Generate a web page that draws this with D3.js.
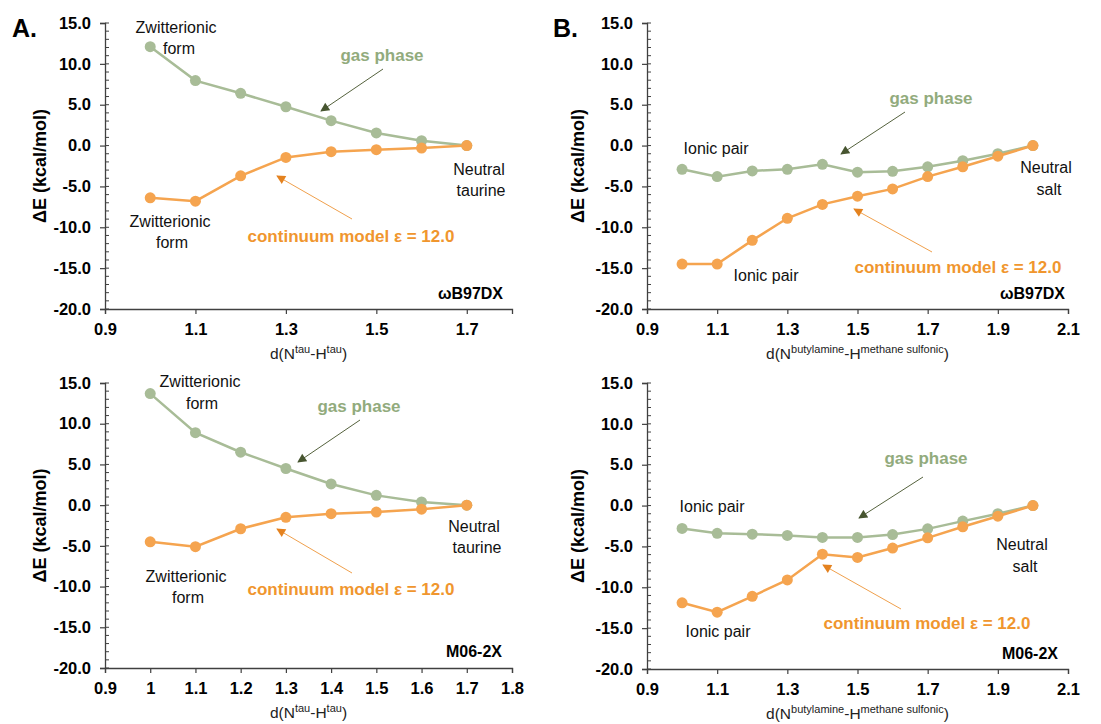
<!DOCTYPE html>
<html>
<head>
<meta charset="utf-8">
<script src="https://cdn.jsdelivr.net/npm/d3@7"></script>
<style>
  body { margin: 0; background: #fff; }
  svg { display: block; font-family: "Liberation Sans", Arial, sans-serif; }
  .tick-lbl { font-weight: bold; font-size: 16.5px; fill: #000; }
  .note { font-size: 16px; fill: #111; }
  .gas-lbl { font-weight: bold; font-size: 17px; fill: #92ab7d; }
  .cont-lbl { font-weight: bold; font-size: 17px; fill: #f0962e; }
  .method { font-weight: bold; font-size: 16px; fill: #000; }
</style>
</head>
<body>
<div id="chart"></div>
<script>
// distances (Å) and energies (kcal/mol)
var xTaurine = [1.0, 1.1, 1.2, 1.3, 1.4, 1.5, 1.6, 1.7];
var gasTauWB = [12.1, 7.95, 6.4, 4.75, 3.05, 1.55, 0.6, 0.0];
var contTauWB = [-6.4, -6.8, -3.7, -1.45, -0.75, -0.5, -0.3, 0.0];
var gasTauM06 = [13.7, 8.9, 6.5, 4.5, 2.6, 1.2, 0.4, 0.0];
var contTauM06 = [-4.5, -5.1, -2.9, -1.5, -1.05, -0.85, -0.5, 0.0];

var xSalt = [1.0, 1.1, 1.2, 1.3, 1.4, 1.5, 1.6, 1.7, 1.8, 1.9, 2.0];
var gasSaltWB = [-2.9, -3.8, -3.1, -2.9, -2.3, -3.25, -3.15, -2.6, -1.85, -1.0, 0.0];
var contSaltWB = [-14.5, -14.5, -11.6, -8.9, -7.2, -6.2, -5.3, -3.8, -2.6, -1.3, 0.0];
var gasSaltM06 = [-2.8, -3.4, -3.5, -3.65, -3.9, -3.9, -3.55, -2.85, -1.9, -1.0, 0.0];
var contSaltM06 = [-11.9, -13.05, -11.1, -9.1, -5.95, -6.35, -5.2, -3.95, -2.6, -1.3, 0.0];

var yTicks = [15, 10, 5, 0, -5, -10, -15, -20];
var xTicksTauTop = [0.9, 1.1, 1.3, 1.5, 1.7];
var xTicksTauBot = [0.9, 1.0, 1.1, 1.2, 1.3, 1.4, 1.5, 1.6, 1.7, 1.8];
var xTicksSalt = [0.9, 1.1, 1.3, 1.5, 1.7, 1.9, 2.1];

var gasColor = '#a8bc97';
var contColor = '#f5a44f';

var W = 1101, H = 724;
var svg = d3.select('#chart').append('svg').attr('width', W).attr('height', H);

var defs = svg.append('defs');
function marker(id, color) {
  defs.append('marker')
    .attr('id', id)
    .attr('viewBox', '0 0 10 10')
    .attr('refX', 9).attr('refY', 5)
    .attr('markerWidth', 11).attr('markerHeight', 9)
    .attr('markerUnits', 'userSpaceOnUse')
    .attr('orient', 'auto')
    .append('path').attr('d', 'M0,0L10,5L0,10Z').attr('fill', color);
}
marker('head-gas', '#475530');
marker('head-cont', '#e4821f');

var panels = [
  {
    left: 105, top: 23, width: 407, height: 286, domain: [0.9, 1.8], ticks: xTicksTauTop,
    x: xTaurine, gas: gasTauWB, cont: contTauWB, xsub: ['tau', 'tau'], yTitleX: 40,
    method: 'ωB97DX', methodPos: [503, 299],
    notes: [['Zwitterionic', 176, 33], ['form', 179, 54], ['Neutral', 479, 175], ['taurine', 481, 196],
            ['Zwitterionic', 170, 227], ['form', 172, 248]],
    gasLbl: [382, 61], gasArrow: [383, 69, 321, 111],
    contLbl: [351, 242], contArrow: [352, 219, 277, 176]
  },
  {
    left: 105, top: 383, width: 407, height: 285, domain: [0.9, 1.8], ticks: xTicksTauBot,
    x: xTaurine, gas: gasTauM06, cont: contTauM06, xsub: ['tau', 'tau'], yTitleX: 40,
    method: 'M06-2X', methodPos: [502, 657],
    notes: [['Zwitterionic', 200, 387], ['form', 202, 409], ['Neutral', 474, 532], ['taurine', 477, 553],
            ['Zwitterionic', 186, 582], ['form', 188, 603]],
    gasLbl: [359, 412], gasArrow: [360, 420, 298, 462],
    contLbl: [351, 595], contArrow: [352, 573, 277, 529]
  },
  {
    left: 647, top: 23, width: 421, height: 286, domain: [0.9, 2.1], ticks: xTicksSalt,
    x: xSalt, gas: gasSaltWB, cont: contSaltWB, xsub: ['butylamine', 'methane sulfonic'], yTitleX: 578,
    method: 'ωB97DX', methodPos: [1065, 299],
    notes: [['Ionic pair', 716, 154], ['Ionic pair', 766, 281], ['Neutral', 1046, 173], ['salt', 1049, 195]],
    gasLbl: [931, 104], gasArrow: [905, 112, 841, 154],
    contLbl: [958, 273], contArrow: [932, 252, 854, 209]
  },
  {
    left: 647, top: 383, width: 421, height: 286, domain: [0.9, 2.1], ticks: xTicksSalt,
    x: xSalt, gas: gasSaltM06, cont: contSaltM06, xsub: ['butylamine', 'methane sulfonic'], yTitleX: 578,
    method: 'M06-2X', methodPos: [1058, 659],
    notes: [['Ionic pair', 712, 512], ['Ionic pair', 718, 637], ['Neutral', 1022, 550], ['salt', 1025, 572]],
    gasLbl: [926, 464], gasArrow: [923, 477, 859, 518],
    contLbl: [927, 629], contArrow: [901, 609, 823, 565]
  }
];

var fmtY = function (d) { return d.toFixed(1); };
var fmtX = function (d) { return String(+d.toFixed(1)); };

panels.forEach(function (p) {
  var xScale = d3.scaleLinear().domain(p.domain).range([p.left, p.left + p.width]);
  var yScale = d3.scaleLinear().domain([-20, 15]).range([p.top + p.height, p.top]);
  var g = svg.append('g');
  var axisColor = '#404040';

  // minor y ticks, inside
  var minor = d3.range(-20, 15.01, 1);
  g.selectAll('.ym').data(minor).enter().append('line')
    .attr('x1', p.left).attr('x2', p.left + 4)
    .attr('y1', function (d) { return yScale(d); }).attr('y2', function (d) { return yScale(d); })
    .attr('stroke', axisColor).attr('stroke-width', 1);

  var yAxis = d3.axisLeft(yScale).tickValues(yTicks).tickFormat(fmtY).tickSizeOuter(0).tickSize(5).tickPadding(9);
  var yg = g.append('g').attr('transform', 'translate(' + p.left + ',0)').call(yAxis);
  yg.select('.domain').attr('stroke', axisColor).attr('stroke-width', 1.3);
  yg.selectAll('.tick line').attr('stroke', axisColor).attr('stroke-width', 1.2);
  yg.selectAll('.tick text').attr('class', 'tick-lbl').attr('font-family', null).attr('font-size', null);

  var xAxis = d3.axisBottom(xScale).tickValues(p.ticks).tickFormat(fmtX).tickSizeOuter(0).tickSize(5).tickPadding(9);
  var xg = g.append('g').attr('transform', 'translate(0,' + (p.top + p.height) + ')').call(xAxis);
  xg.select('.domain').attr('stroke', axisColor).attr('stroke-width', 1.3);
  xg.selectAll('.tick line').attr('stroke', axisColor).attr('stroke-width', 1.2);
  xg.selectAll('.tick text').attr('class', 'tick-lbl').attr('font-family', null).attr('font-size', null);

  // axis titles
  var cy = p.top + p.height / 2;
  svg.append('text')
    .attr('transform', 'translate(' + p.yTitleX + ',' + cy + ') rotate(-90)')
    .attr('text-anchor', 'middle').attr('dy', '0.35em')
    .attr('font-weight', 'bold').attr('font-size', 18).text('ΔE (kcal/mol)');

  var xt = svg.append('text')
    .attr('x', p.left + p.width / 2).attr('y', p.top + p.height + 50)
    .attr('text-anchor', 'middle').attr('font-size', 15.5).attr('fill', '#222');
  xt.append('tspan').text('d(N');
  xt.append('tspan').attr('font-size', 11).attr('dy', -6).text(p.xsub[0]);
  xt.append('tspan').attr('dy', 6).text('-H');
  xt.append('tspan').attr('font-size', 11).attr('dy', -6).text(p.xsub[1]);
  xt.append('tspan').attr('dy', 6).text(')');

  var line = d3.line()
    .x(function (d) { return xScale(d[0]); })
    .y(function (d) { return yScale(d[1]); });

  [[p.gas, gasColor], [p.cont, contColor]].forEach(function (s) {
    var pts = p.x.map(function (x, i) { return [x, s[0][i]]; });
    g.append('path').attr('d', line(pts)).attr('fill', 'none')
      .attr('stroke', s[1]).attr('stroke-width', 2.5);
    g.selectAll(null).data(pts).enter().append('circle')
      .attr('cx', function (d) { return xScale(d[0]); })
      .attr('cy', function (d) { return yScale(d[1]); })
      .attr('r', 5.5).attr('fill', s[1]);
  });

  // annotations
  p.notes.forEach(function (n) {
    svg.append('text').attr('class', 'note').attr('x', n[1]).attr('y', n[2])
      .attr('text-anchor', 'middle').text(n[0]);
  });
  svg.append('text').attr('class', 'gas-lbl').attr('x', p.gasLbl[0]).attr('y', p.gasLbl[1])
    .attr('text-anchor', 'middle').text('gas phase');
  svg.append('text').attr('class', 'cont-lbl').attr('x', p.contLbl[0]).attr('y', p.contLbl[1])
    .attr('text-anchor', 'middle').text('continuum model ε = 12.0');
  svg.append('text').attr('class', 'method').attr('x', p.methodPos[0]).attr('y', p.methodPos[1])
    .attr('text-anchor', 'end').text(p.method);

  svg.append('line')
    .attr('x1', p.gasArrow[0]).attr('y1', p.gasArrow[1]).attr('x2', p.gasArrow[2]).attr('y2', p.gasArrow[3])
    .attr('stroke', '#55623d').attr('stroke-width', 1).attr('marker-end', 'url(#head-gas)');
  svg.append('line')
    .attr('x1', p.contArrow[0]).attr('y1', p.contArrow[1]).attr('x2', p.contArrow[2]).attr('y2', p.contArrow[3])
    .attr('stroke', '#f0a04c').attr('stroke-width', 1).attr('marker-end', 'url(#head-cont)');
});

svg.append('text').attr('x', 12).attr('y', 37).attr('font-weight', 'bold').attr('font-size', 25).text('A.');
svg.append('text').attr('x', 553).attr('y', 37).attr('font-weight', 'bold').attr('font-size', 25).text('B.');
</script>
</body>
</html>
